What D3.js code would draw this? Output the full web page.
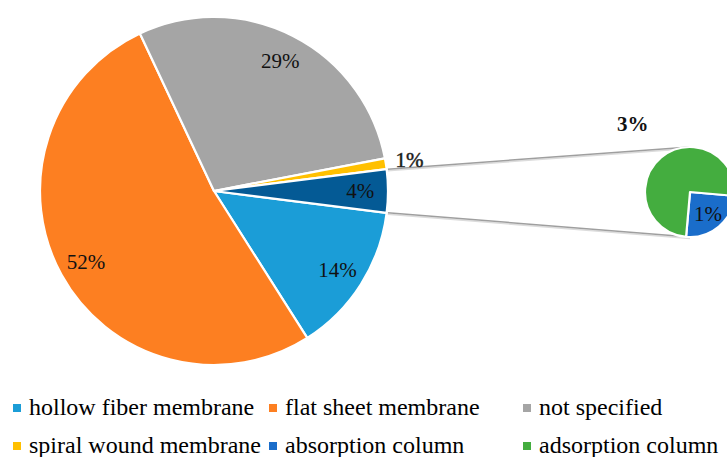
<!DOCTYPE html>
<html>
<head>
<meta charset="utf-8">
<script src="https://cdn.jsdelivr.net/npm/d3@7"></script>
<style>
  body { margin: 0; background: #fff; }
  svg { display: block; }
  svg text { font-family: "Liberation Serif", "Times New Roman", Times, "DejaVu Serif", serif; }
</style>
</head>
<body>
<svg id="chart" width="727" height="457"></svg>
<script>
// Share of studies by contactor type (%)
const categories = ["hollow fiber membrane", "flat sheet membrane", "not specified",
                    "spiral wound membrane", "absorption column", "adsorption column"];
const shares = [14, 52, 29, 1, 1, 3];
const colors = ["#1b9dd7", "#fd7f21", "#a5a5a5", "#ffc000", "#1a6dca", "#44ad3f"];
const otherColor = "#045a95";
// the last two categories are split out into the secondary pie
const secondaryCount = 2;

const svg = d3.select("#chart");

const main = { cx: 214, cy: 191, r: 174 };
const sec = { cx: 690, cy: 192, r: 45 };

const nMain = categories.length - secondaryCount;
const otherValue = d3.sum(shares.slice(nMain));
const mainData = categories.slice(0, nMain).map((c, i) => ({ name: c, value: shares[i], color: colors[i] }))
  .concat([{ name: "Other", value: otherValue, color: otherColor }]);
const secData = categories.slice(nMain).map((c, i) => ({ name: c, value: shares[nMain + i], color: colors[nMain + i] }));

const total = d3.sum(mainData, d => d.value);
const deg = Math.PI / 180;
// "Other" slice is centred on the 3 o'clock direction, pointing at the secondary pie
const otherSpan = otherValue / total * 2 * Math.PI;
const mainStart = Math.PI / 2 + otherSpan / 2;

const mainPie = d3.pie().sort(null).value(d => d.value)
  .startAngle(mainStart).endAngle(mainStart + 2 * Math.PI);
const mainArcs = mainPie(mainData);

const secStart = 95 * deg;
const secPie = d3.pie().sort(null).value(d => d.value)
  .startAngle(secStart).endAngle(secStart + 2 * Math.PI);
const secArcs = secPie(secData);

// connector lines from the edges of the "Other" slice to the secondary pie
const otherArc = mainArcs[mainArcs.length - 1];
const edgePt = a => [main.cx + main.r * Math.sin(a), main.cy - main.r * Math.cos(a)];
const upper = edgePt(otherArc.startAngle);
const lower = edgePt(otherArc.endAngle);
const conn = svg.append("g");
[[upper, [sec.cx, sec.cy - sec.r]], [lower, [sec.cx, sec.cy + sec.r]]].forEach(([a, b]) => {
  conn.append("line")
    .attr("x1", a[0] + 1).attr("y1", a[1] + 1.5).attr("x2", b[0]).attr("y2", b[1] + 1.5)
    .attr("stroke", "#dcdcdc").attr("stroke-width", 1.5);
  conn.append("line")
    .attr("x1", a[0] + 1).attr("y1", a[1]).attr("x2", b[0]).attr("y2", b[1])
    .attr("stroke", "#9f9f9f").attr("stroke-width", 1.5);
});

// main pie
const arcMain = d3.arc().innerRadius(0).outerRadius(main.r);
const gMain = svg.append("g").attr("transform", `translate(${main.cx},${main.cy})`);
gMain.selectAll("path").data(mainArcs).join("path")
  .attr("d", arcMain)
  .attr("fill", d => d.data.color)
  .attr("stroke", "#fff").attr("stroke-width", 2.2).attr("stroke-linejoin", "round");

// labels inside the main slices, small slices get an outside label
const labelIn = d3.arc().innerRadius(main.r * 0.84).outerRadius(main.r * 0.84);
const labelOut = d3.arc().innerRadius(main.r + 24).outerRadius(main.r + 24);
const isSmall = d => d.data.value / total < 0.02;
gMain.selectAll("text").data(mainArcs).join("text")
  .attr("transform", d => {
    const c = isSmall(d) ? labelOut.centroid(d) : labelIn.centroid(d);
    return `translate(${c[0]},${c[1]})`;
  })
  .attr("text-anchor", "middle").attr("dy", "0.35em")
  .attr("font-size", 21)
  .attr("fill", "#111")
  .attr("stroke", d => isSmall(d) ? "#333" : "none")
  .attr("stroke-width", 0.5)
  .text(d => d.data.value + "%");

// secondary pie
const arcSec = d3.arc().innerRadius(0).outerRadius(sec.r);
const gSec = svg.append("g").attr("transform", `translate(${sec.cx},${sec.cy})`);
gSec.selectAll("path").data(secArcs).join("path")
  .attr("d", arcSec)
  .attr("fill", d => d.data.color)
  .attr("stroke", "#fff").attr("stroke-width", 2.2).attr("stroke-linejoin", "round");

const secIn = d3.arc().innerRadius(sec.r * 0.62).outerRadius(sec.r * 0.62);
const secOut = d3.arc().innerRadius(sec.r + 44).outerRadius(sec.r + 44);
gSec.selectAll("text").data(secArcs).join("text")
  .attr("transform", d => {
    const c = d.index === 0 ? secIn.centroid(d) : secOut.centroid(d);
    return `translate(${c[0]},${c[1]})`;
  })
  .attr("text-anchor", "middle").attr("dy", "0.35em")
  .attr("font-size", 21)
  .attr("font-weight", d => d.index === 0 ? "normal" : "bold")
  .attr("fill", "#111")
  .text(d => d.data.value + "%");

// legend, three columns by two rows
const colX = [13, 269, 523];
const rowY = [408, 446];
const legend = svg.append("g");
categories.forEach((c, i) => {
  const x = colX[i % 3], y = rowY[Math.floor(i / 3)];
  legend.append("rect")
    .attr("x", x).attr("y", y - 4).attr("width", 8).attr("height", 8)
    .attr("fill", colors[i]);
  legend.append("text")
    .attr("x", x + 16).attr("y", y + 7)
    .attr("font-size", 24)
    .attr("fill", "#000")
    .text(c);
});
</script>
</body>
</html>
